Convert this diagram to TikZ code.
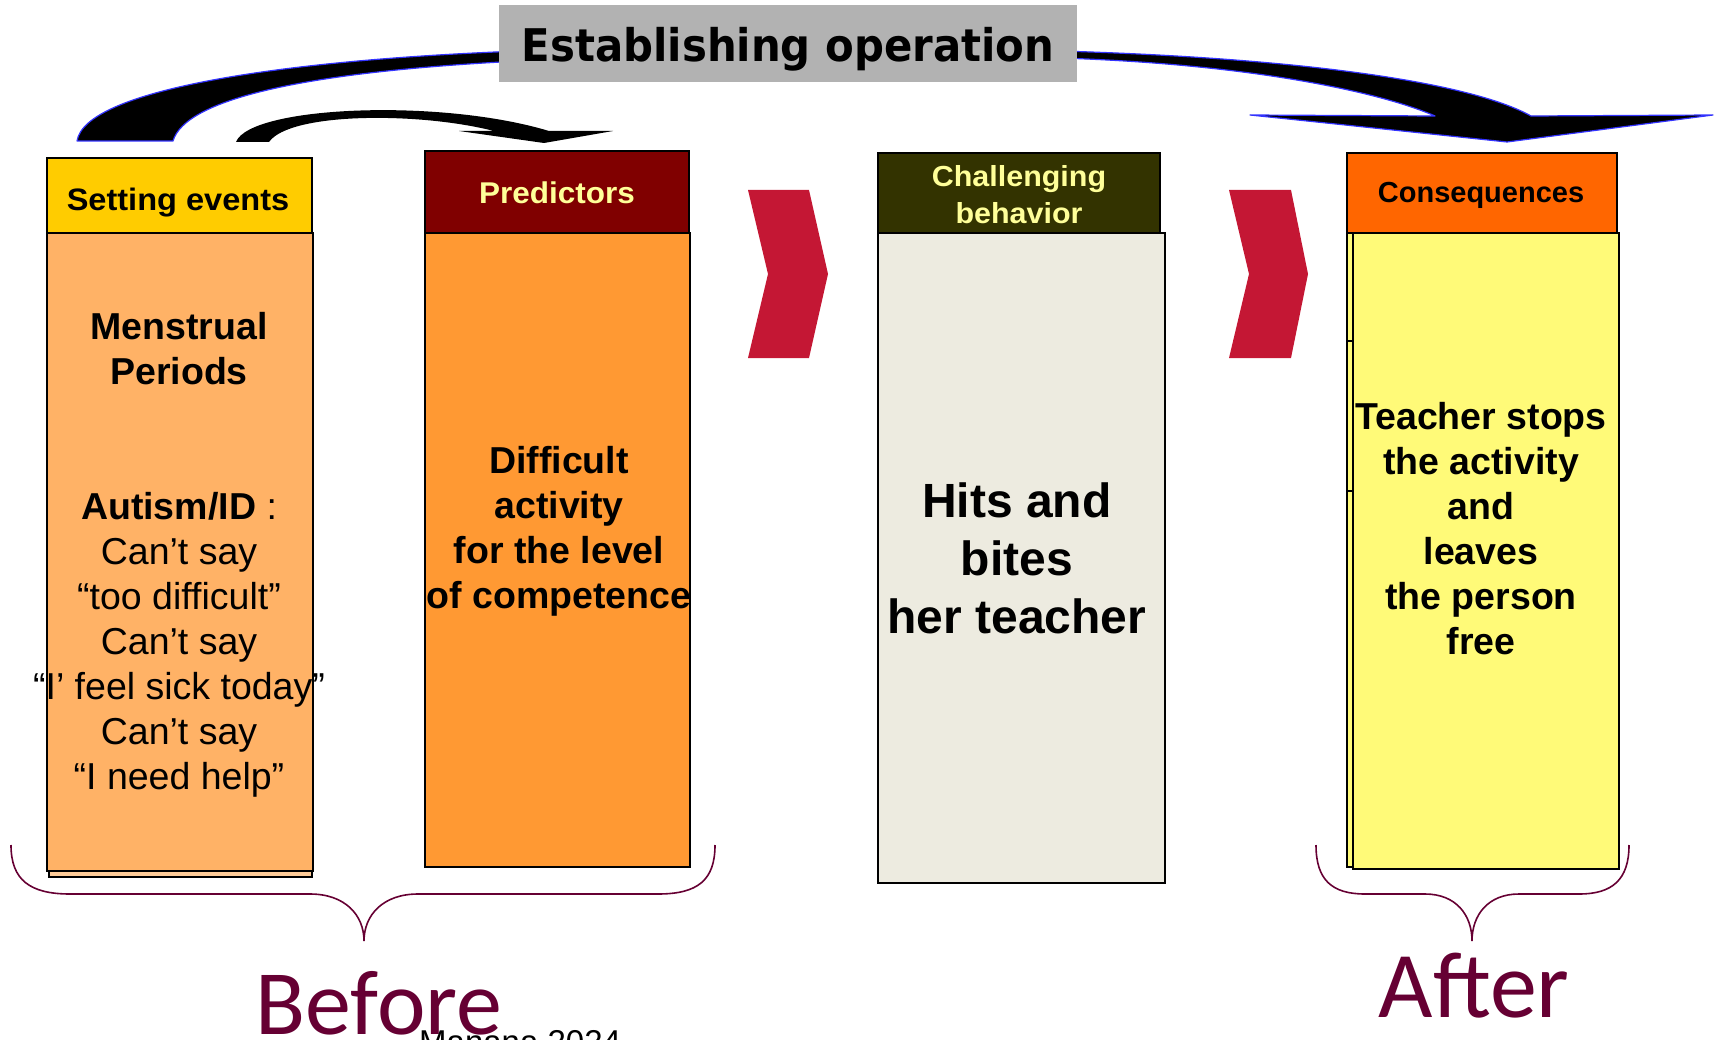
\documentclass[tikz,border=0pt]{standalone}
\usepackage{fontspec}
\setmainfont{Liberation Sans}
\newfontfamily\titlefont[FakeStretch=0.93]{DejaVu Sans}
\newfontfamily\headfont[FakeStretch=1.05]{Liberation Sans}
\newfontfamily\markfont{Carlito}
\definecolor{setcol}{HTML}{FFCC00}
\definecolor{setbody}{HTML}{FFB266}
\definecolor{setshadow}{HTML}{FFCC99}
\definecolor{predcol}{HTML}{800000}
\definecolor{predbody}{HTML}{FF9933}
\definecolor{chalcol}{HTML}{333300}
\definecolor{chalbody}{HTML}{EDEBE0}
\definecolor{conscol}{HTML}{FF6600}
\definecolor{consbody}{HTML}{FFFA78}
\definecolor{paleyellow}{HTML}{FFFF99}
\definecolor{chevron}{HTML}{C41734}
\definecolor{wine}{HTML}{660033}
\definecolor{titlegray}{HTML}{B2B2B2}
\definecolor{edgeblue}{HTML}{3333FF}
\begin{document}
\begin{tikzpicture}[x=1pt,y=-1pt,
  box/.style={draw=black, line width=2pt, inner sep=0pt, anchor=north west},
  headtext/.style={font=\headfont\bfseries\fontsize{30}{36}\selectfont, align=center, inner sep=0pt},
  bodytext/.style={font=\fontsize{37.5}{45}\selectfont, align=center, inner sep=0pt},
  chev/.style={fill=chevron},
  bracket/.style={draw=wine, line width=1.6pt},
  bigarrow/.style={fill=black, draw=edgeblue, line width=1.2pt, line join=round},
  phaselabel/.style={text=wine, font=\markfont\fontsize{92}{100}\selectfont, inner sep=0pt, anchor=base}
]
\useasboundingbox (0,0) rectangle (1715,1040);
\clip (0,0) rectangle (1715,1040);

% curved arrows from the title to the first and last columns
\filldraw[bigarrow] (520,51) .. controls (280,60) and (85,90) .. (77,141)
  -- (173,141) .. controls (185,100) and (300,72) .. (520,61) -- cycle;
\filldraw[bigarrow] (1060,51) .. controls (1300,58) and (1470,82) .. (1531,116)
  -- (1713,115) -- (1507,142) -- (1250,115) -- (1435,116)
  .. controls (1380,92) and (1250,64) .. (1060,58) -- cycle;
% short arrow from setting events to predictors
\fill[black] (236,142) .. controls (250,106) and (440,98) .. (549,131)
  -- (613,131) -- (544,143) -- (459,131) -- (494,131)
  .. controls (420,112) and (290,112) .. (269,142) -- cycle;

% title
\node[fill=titlegray, minimum width=578pt, minimum height=77pt, inner sep=0pt, anchor=north west] (eobox) at (499,5) {};
\node[font=\titlefont\bfseries\fontsize{45}{50}\selectfont, inner sep=0pt] (eotext) at (788,49) {Establishing operation};

% setting events column
\node[box, fill=setshadow, line width=1.6pt, minimum width=263pt, minimum height=638pt] (setback) at (48,238) {};
\node[box, fill=setbody, minimum width=266pt, minimum height=638pt] (setbody) at (46,232) {};
\node[box, fill=setcol, minimum width=265pt, minimum height=75pt] (sethead) at (46,157) {};
\node[headtext, font=\headfont\bfseries\fontsize{31}{36}\selectfont] (settitle) at (178,203) {Setting events};
\node[bodytext] (settext) at (179,554.5) {\textbf{Menstrual}\\\textbf{Periods}\\[90pt]\textbf{Autism/ID} :\\Can’t say\\“too difficult”\\Can’t say\\“I’ feel sick today”\\Can’t say\\“I need help”};

% predictors column
\node[box, fill=predbody, minimum width=265pt, minimum height=634pt] (predbody) at (424,232) {};
\node[box, fill=predcol, minimum width=264pt, minimum height=82pt] (predhead) at (424,150) {};
\node[headtext, text=paleyellow] (predtitle) at (557,193) {Predictors};
\node[bodytext, font=\bfseries\fontsize{37.5}{45}\selectfont] (predtext) at (559,531.5) {Difficult\\activity\\for the level\\of competence};

% challenging behavior column
\node[box, fill=chalbody, minimum width=287pt, minimum height=650pt] (chalbody) at (877,232) {};
\node[box, fill=chalcol, minimum width=282pt, minimum height=80pt] (chalhead) at (877,152) {};
\node[headtext, text=paleyellow, font=\headfont\bfseries\fontsize{29}{37}\selectfont] (chaltitle) at (1019,195) {Challenging\\behavior};
\node[bodytext, font=\bfseries\fontsize{48}{58}\selectfont] (chaltext) at (1017,558) {Hits and\\bites\\her teacher};

% consequences column
\node[box, fill=consbody, line width=1.6pt, minimum width=266pt, minimum height=634pt] (consback) at (1346,232) {};
\draw[line width=1.6pt] (1346,341) -- (1352,341) (1346,491) -- (1352,491);
\node[box, fill=consbody, minimum width=266pt, minimum height=636pt] (consbody) at (1352,232) {};
\node[box, fill=conscol, minimum width=270pt, minimum height=80pt] (conshead) at (1346,152) {};
\node[headtext, font=\bfseries\fontsize{29}{36}\selectfont] (constitle) at (1481,195) {Consequences};
\node[bodytext, font=\bfseries\fontsize{37.5}{45}\selectfont] (constext) at (1481,529) {Teacher stops\\the activity\\and\\leaves\\the person\\free};

% chevrons between the stages
\fill[chev] (748,190) -- (809,190) -- (828,274) -- (809,358) -- (748,358) -- (768,274) -- cycle;
\fill[chev] (1229,190) -- (1291,190) -- (1308,274) -- (1291,358) -- (1229,358) -- (1249,274) -- cycle;

% braces
\draw[bracket] (11,845) .. controls (11,880) and (30,894) .. (70,894) -- (310,894)
  .. controls (345,894) and (364,915) .. (364,941)
  .. controls (364,915) and (383,894) .. (418,894) -- (658,894)
  .. controls (698,894) and (715,880) .. (715,845);
\draw[bracket] (1316,845) .. controls (1316,880) and (1332,894) .. (1365,894) -- (1425,894)
  .. controls (1456,894) and (1472,915) .. (1472,941)
  .. controls (1472,915) and (1488,894) .. (1519,894) -- (1579,894)
  .. controls (1612,894) and (1629,880) .. (1629,845);

\node[phaselabel] (before) at (379,1034) {Before};
\node[phaselabel, font=\markfont\fontsize{94}{100}\selectfont] (after) at (1474,1017) {After};
\node[font=\fontsize{33}{40}\selectfont, inner sep=0pt, anchor=base west] (credit) at (419,1053) {Manana 2024};
\end{tikzpicture}
\end{document}
